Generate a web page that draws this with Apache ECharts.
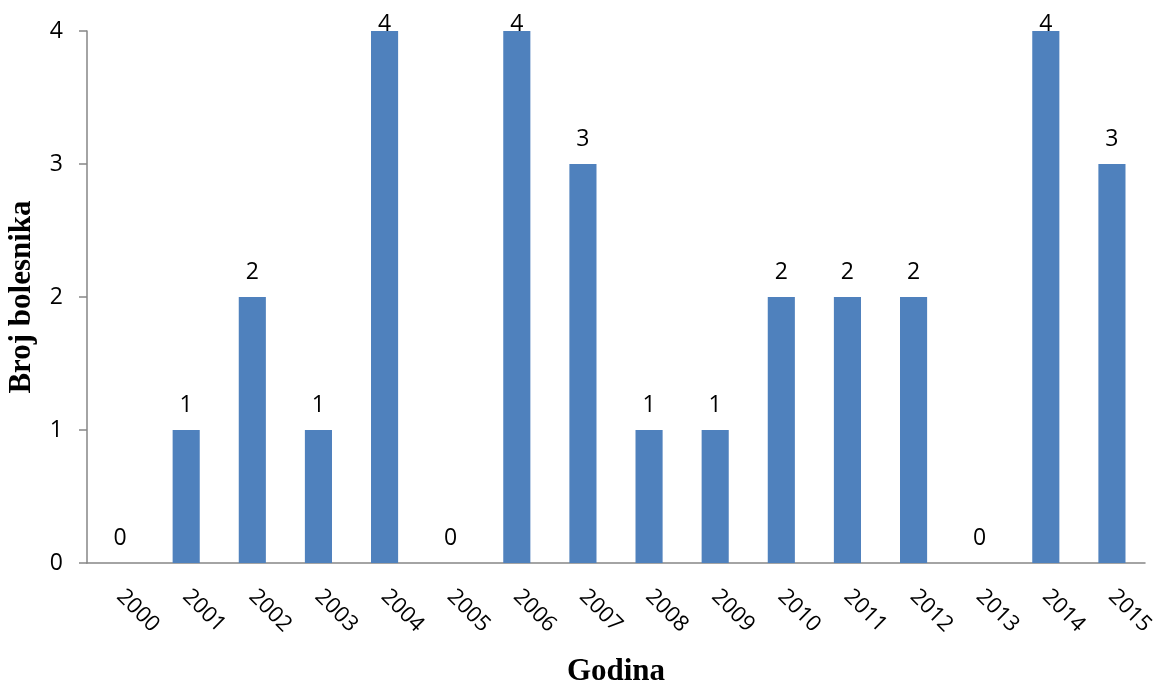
<!DOCTYPE html>
<html>
<head>
<meta charset="utf-8">
<script src="https://cdn.jsdelivr.net/npm/echarts@6/dist/echarts.min.js"></script>
<style>html,body{margin:0;padding:0;background:#fff}#c{width:1159px;height:683px}</style>
</head>
<body>
<div id="c"></div>
<script>
const years = ['2000','2001','2002','2003','2004','2005','2006','2007','2008','2009','2010','2011','2012','2013','2014','2015'];
const patients = [0,1,2,1,4,0,4,3,1,1,2,2,2,0,4,3];
const yTicks = [0,1,2,3,4];

const chart = echarts.init(document.getElementById('c'));
const yMax = yTicks[yTicks.length-1];
chart.setOption({
  animation:false,
  backgroundColor:'#fff',
  grid:{left:87,right:14,top:31,bottom:120,containLabel:false,outerBoundsMode:'none'},
  xAxis:{
    type:'category',
    data:years,
    name:'Godina',
    nameLocation:'middle',
    nameGap:93,
    nameTextStyle:{fontFamily:'Liberation Serif',fontWeight:'bold',fontSize:31,color:'#000'},
    axisLine:{lineStyle:{color:'#868686',width:1.5}},
    axisTick:{show:false},
    axisLabel:{rotate:-45,fontFamily:'Open Sans',fontSize:22,color:'#000',margin:30,interval:0}
  },
  yAxis:{
    type:'value',
    min:0,max:yMax,interval:1,
    name:'Broj bolesnika',
    nameLocation:'middle',
    nameGap:50,
    nameTextStyle:{fontFamily:'Liberation Serif',fontWeight:'bold',fontSize:31,color:'#000'},
    axisLine:{show:true,lineStyle:{color:'#868686',width:1.5}},
    axisTick:{show:true,length:8,lineStyle:{color:'#868686',width:1.5}},
    splitLine:{show:false},
    axisLabel:{fontFamily:'Open Sans',fontSize:23,color:'#000',margin:24}
  },
  series:[{
    type:'bar',
    data:patients.map(v => v===yMax ? {value:v,label:{distance:-5}} : v),
    barWidth:'41%',
    itemStyle:{color:'#4F81BD'},
    label:{show:true,position:'top',distance:13,fontFamily:'Open Sans',fontSize:23,color:'#000'}
  }]
});
</script>
</body>
</html>
